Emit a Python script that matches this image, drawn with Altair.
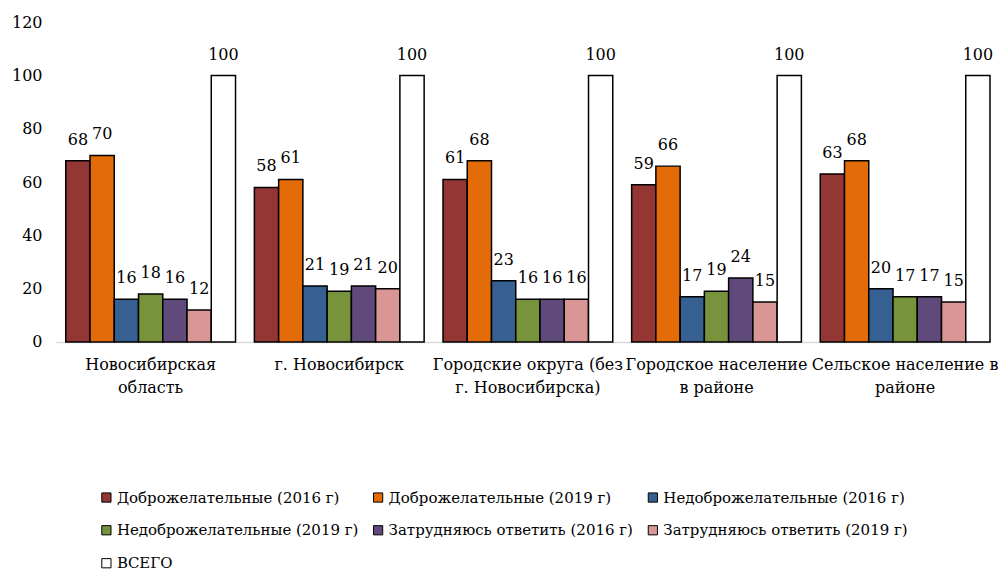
import altair as alt
import pandas as pd

categories = [
    "Новосибирская область",
    "г. Новосибирск",
    "Городские округа (без г. Новосибирска)",
    "Городское население в районе",
    "Сельское население в районе",
]
category_lines = [
    ["Новосибирская", "область"],
    ["г. Новосибирск"],
    ["Городские округа (без", "г. Новосибирска)"],
    ["Городское население", "в районе"],
    ["Сельское население в", "районе"],
]
series = [
    "Доброжелательные (2016 г)",
    "Доброжелательные (2019 г)",
    "Недоброжелательные (2016 г)",
    "Недоброжелательные (2019 г)",
    "Затрудняюсь ответить (2016 г)",
    "Затрудняюсь ответить (2019 г)",
    "ВСЕГО",
]
colors = ["#943634", "#E36C09", "#366092", "#77933C", "#604A7B", "#D99694", "#FFFFFF"]

friendly_2016 = [68, 58, 61, 59, 63]
friendly_2019 = [70, 61, 68, 66, 68]
unfriendly_2016 = [16, 21, 23, 17, 20]
unfriendly_2019 = [18, 19, 16, 19, 17]
unsure_2016 = [16, 21, 16, 24, 17]
unsure_2019 = [12, 20, 16, 15, 15]
total = [100, 100, 100, 100, 100]

series_values = [friendly_2016, friendly_2019, unfriendly_2016, unfriendly_2019,
                 unsure_2016, unsure_2019, total]

rows = []
for s, vals in zip(series, series_values):
    for c, v in zip(categories, vals):
        rows.append({"category": c, "series": s, "value": v})
df = pd.DataFrame(rows)

expr = "datum.label"
for c, lines in reversed(list(zip(categories, category_lines))):
    arr = "[" + ", ".join("'" + l + "'" for l in lines) + "]"
    expr = f"datum.label == '{c}' ? {arr} : ({expr})"

FONT = "DejaVu Serif"
FS = 16

x_enc = alt.X(
    "category:N",
    sort=categories,
    scale=alt.Scale(paddingInner=0.1, paddingOuter=0.026, align=1),
    axis=alt.Axis(
        title=None,
        labelAngle=0,
        labelExpr=expr,
        labelFont=FONT,
        labelFontSize=FS,
        labelColor="black",
        labelLineHeight=23,
        labelPadding=15,
        ticks=False,
        grid=False,
        domainColor="#d9d9d9",
        domainWidth=1.5,
        labelLimit=300,
    ),
)
xoff = alt.XOffset("series:N", sort=series)
y_enc = alt.Y(
    "value:Q",
    scale=alt.Scale(domain=[0, 120]),
    axis=alt.Axis(
        title=None,
        values=[0, 20, 40, 60, 80, 100, 120],
        grid=False,
        domain=False,
        ticks=False,
        labelFont=FONT,
        labelFontSize=FS,
        labelColor="black",
        labelPadding=14,
    ),
)

base = alt.Chart(df).encode(x=x_enc, xOffset=xoff, y=y_enc)

bars = base.mark_bar(stroke="black", strokeWidth=1.5).encode(
    color=alt.Color(
        "series:N",
        sort=series,
        scale=alt.Scale(domain=series, range=colors),
        legend=alt.Legend(
            title=None,
            orient="none",
            legendX=43,
            legendY=468,
            direction="horizontal",
            columns=3,
            symbolType="square",
            symbolSize=85,
            symbolStrokeColor="black",
            symbolStrokeWidth=1,
            labelFont=FONT,
            labelFontSize=15,
            labelColor="black",
            labelLimit=400,
            labelOffset=3,
            columnPadding=12,
            rowPadding=17,
            symbolOffset=0,
        ),
    )
)

labels = base.mark_text(
    font=FONT, fontSize=FS, color="black", baseline="alphabetic", dy=-16
).encode(text="value:Q")

chart = (
    alt.layer(bars, labels)
    .properties(
        width=935,
        height=320,
        background="white",
        padding={"top": 6, "left": 3, "right": 0, "bottom": 0},
    )
    .configure_view(strokeWidth=0, stroke="transparent")
    .configure_axis(grid=False)
)

chart.save("out.html", embed_options={"renderer": "svg", "actions": False})
